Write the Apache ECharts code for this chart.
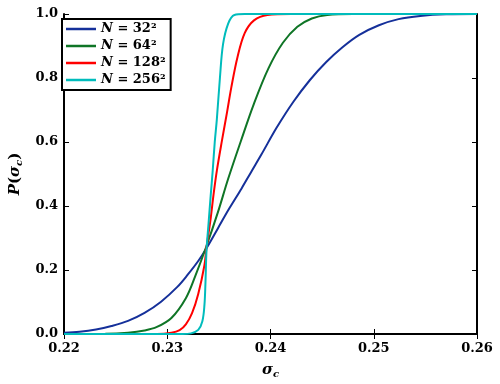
<!DOCTYPE html>
<html>
<head>
<meta charset="utf-8">
<script src="https://cdn.jsdelivr.net/npm/echarts@6/dist/echarts.min.js"></script>
<style>
  html, body { margin: 0; padding: 0; background: #fff; }
  #main { width: 500px; height: 384px; }
</style>
</head>
<body>
<div id="main"></div>
<script>
// 各曲线的数据点 (sigma_c, P)
var seriesNames = ['N = 32²', 'N = 64²', 'N = 128²', 'N = 256²'];
var seriesColors = ['#15309a', '#0f7526', '#ff0000', '#00bcbc'];

var n32 = [
  [0.2200, 0.004], [0.2215, 0.007], [0.2231, 0.014], [0.2246, 0.025], [0.2262, 0.041],
  [0.2278, 0.066], [0.2294, 0.101], [0.2310, 0.148], [0.2320, 0.186], [0.2330, 0.228],
  [0.2338, 0.268], [0.2349, 0.330], [0.2360, 0.392], [0.2372, 0.455], [0.2381, 0.505],
  [0.2391, 0.560], [0.2406, 0.645], [0.2422, 0.725], [0.2438, 0.793], [0.2454, 0.850],
  [0.2470, 0.897], [0.2486, 0.935], [0.2505, 0.965], [0.2524, 0.984], [0.2545, 0.994],
  [0.2570, 0.999], [0.2600, 1.000]
];
var n64 = [
  [0.2200, 0.000], [0.2240, 0.0005], [0.2262, 0.004], [0.2278, 0.011], [0.2290, 0.022],
  [0.2304, 0.050], [0.2318, 0.112], [0.2327, 0.180], [0.2338, 0.275], [0.2349, 0.380],
  [0.2359, 0.485], [0.2371, 0.600], [0.2384, 0.720], [0.2398, 0.830], [0.2412, 0.910],
  [0.2426, 0.960], [0.2440, 0.986], [0.2455, 0.997], [0.2480, 1.000], [0.2600, 1.000]
];
var n128 = [
  [0.2200, 0.000], [0.2290, 0.000], [0.2304, 0.004], [0.2312, 0.012], [0.2318, 0.030],
  [0.2324, 0.065], [0.2330, 0.125], [0.2336, 0.215], [0.2338, 0.270], [0.2342, 0.360],
  [0.2345, 0.440], [0.2348, 0.510], [0.2353, 0.605], [0.2358, 0.695], [0.2362, 0.770],
  [0.2368, 0.865], [0.2375, 0.940], [0.2384, 0.980], [0.2397, 0.997], [0.2420, 1.000],
  [0.2600, 1.000]
];
var n256 = [
  [0.2200, 0.000], [0.2315, 0.000], [0.2323, 0.002], [0.2330, 0.013], [0.2334, 0.040],
  [0.2336, 0.090], [0.2337, 0.160], [0.2338, 0.260], [0.2340, 0.346], [0.2342, 0.430],
  [0.2344, 0.510], [0.2346, 0.600], [0.2348, 0.670], [0.2351, 0.800], [0.2354, 0.905],
  [0.2359, 0.970], [0.2365, 0.997], [0.2375, 1.000], [0.2600, 1.000]
];
var allData = [n32, n64, n128, n256];

var font = 'DejaVu Serif';

var myChart = echarts.init(document.getElementById('main'));

var series = allData.map(function (d, i) {
  return {
    name: seriesNames[i],
    type: 'line',
    data: d,
    symbol: 'none',
    smooth: 0.35,
    lineStyle: { width: 2, color: seriesColors[i] },
    itemStyle: { color: seriesColors[i] }
  };
});

var axisLineStyle = { show: true, lineStyle: { color: '#000', width: 2 } };
var tickStyle = { inside: true, length: 5, lineStyle: { color: '#000', width: 1 } };

myChart.setOption({
  backgroundColor: '#fff',
  animation: false,
  grid: { left: 56, right: 23, top: 14, bottom: 45 },
  legend: {
    left: 62,
    top: 19,
    orient: 'vertical',
    icon: 'rect',
    itemWidth: 30,
    itemHeight: 2.5,
    itemGap: 3,
    padding: [3, 5, 3, 4],
    borderColor: '#000',
    borderWidth: 2,
    backgroundColor: '#fff',
    data: seriesNames,
    formatter: function (name) {
      return '{i|N} = ' + name.slice(4);
    },
    textStyle: {
      fontFamily: font,
      fontWeight: 'bold',
      fontSize: 13,
      lineHeight: 14,
      color: '#000',
      rich: {
        i: { fontFamily: font, fontWeight: 'bold', fontStyle: 'italic', fontSize: 13 }
      }
    }
  },
  xAxis: [
    {
      type: 'value',
      min: 0.22,
      max: 0.26,
      interval: 0.01,
      position: 'bottom',
      name: '{s|σ}{c|c}',
      nameLocation: 'middle',
      nameGap: 27,
      nameTextStyle: {
        rich: {
          s: { fontFamily: font, fontWeight: 'bold', fontStyle: 'italic', fontSize: 15, color: '#000' },
          c: { fontFamily: font, fontWeight: 'bold', fontStyle: 'italic', fontSize: 10, color: '#000', padding: [8, 0, 0, 0] }
        }
      },
      axisLine: axisLineStyle,
      axisTick: tickStyle,
      splitLine: { show: false },
      axisLabel: {
        margin: 8,
        fontFamily: font,
        fontWeight: 'bold',
        fontSize: 13,
        color: '#000',
        formatter: function (v) { return v.toFixed(2); }
      }
    },
    {
      type: 'value',
      min: 0.22,
      max: 0.26,
      interval: 0.01,
      position: 'top',
      axisLine: axisLineStyle,
      axisTick: tickStyle,
      axisLabel: { show: false },
      splitLine: { show: false }
    }
  ],
  yAxis: [
    {
      type: 'value',
      min: 0,
      max: 1,
      interval: 0.2,
      position: 'left',
      name: '{p|P}{b|(}{s|σ}{c|c}{b|)}',
      nameLocation: 'middle',
      nameGap: 36,
      nameRotate: 90,
      nameTextStyle: {
        rich: {
          p: { fontFamily: font, fontWeight: 'bold', fontStyle: 'italic', fontSize: 15, color: '#000' },
          b: { fontFamily: font, fontWeight: 'bold', fontSize: 15, color: '#000' },
          s: { fontFamily: font, fontWeight: 'bold', fontStyle: 'italic', fontSize: 15, color: '#000' },
          c: { fontFamily: font, fontWeight: 'bold', fontStyle: 'italic', fontSize: 10, color: '#000', padding: [8, 0, 0, 0] }
        }
      },
      axisLine: axisLineStyle,
      axisTick: tickStyle,
      splitLine: { show: false },
      axisLabel: {
        margin: 6,
        fontFamily: font,
        fontWeight: 'bold',
        fontSize: 13,
        color: '#000',
        formatter: function (v) { return v.toFixed(1); }
      }
    },
    {
      type: 'value',
      min: 0,
      max: 1,
      interval: 0.2,
      position: 'right',
      axisLine: axisLineStyle,
      axisTick: tickStyle,
      axisLabel: { show: false },
      splitLine: { show: false }
    }
  ],
  series: series
});
</script>
</body>
</html>
